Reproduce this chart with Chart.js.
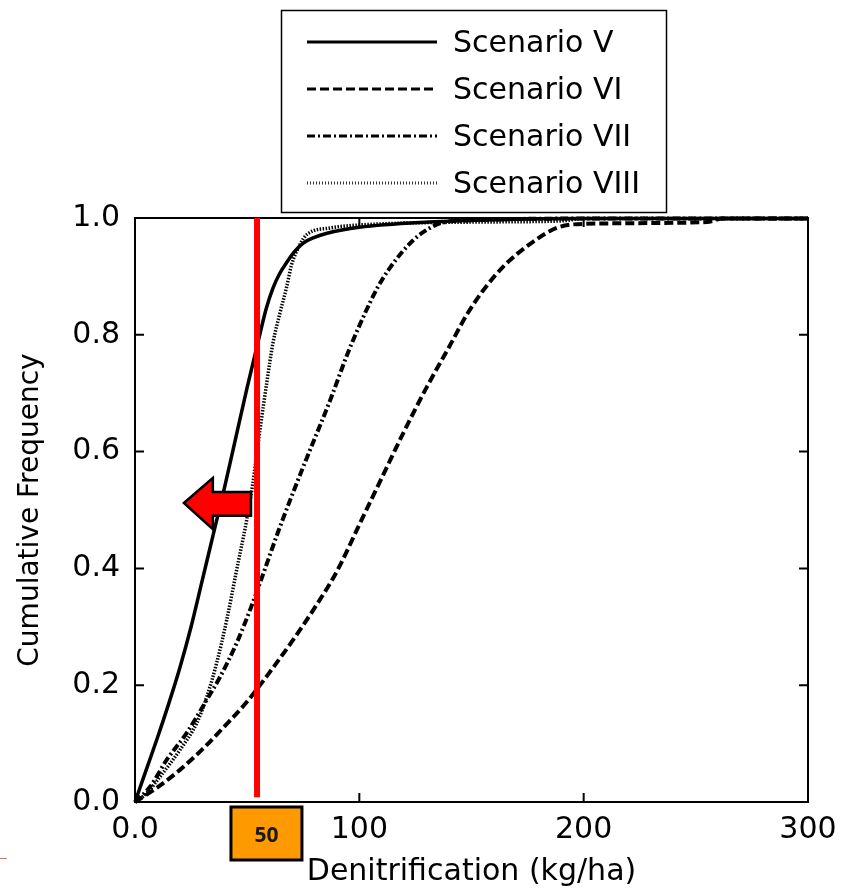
<!DOCTYPE html>
<html>
<head>
<meta charset="utf-8">
<title>Cumulative frequency of denitrification</title>
<script src="https://cdn.jsdelivr.net/npm/chart.js@4.4.0/dist/chart.umd.min.js"></script>
<style>
  html, body { margin: 0; padding: 0; background: #fff; }
  #wrap { width: 850px; height: 891px; }
</style>
</head>
<body>
<div id="wrap"><canvas id="cdf" width="850" height="891"></canvas></div>
<script>
// ============================================================
// Data
// ============================================================

const SCENARIO_NAMES = ['Scenario V', 'Scenario VI', 'Scenario VII', 'Scenario VIII'];

// Scenario V — solid
const V_X = [0, 5, 10, 15, 20, 25, 30, 35, 40, 45, 50, 55, 58.5, 61.5, 64.5, 67.8, 71, 75, 80, 85.6, 100, 131, 160, 200, 300];
const V_Y = [0, 0.055, 0.11, 0.168, 0.23, 0.3, 0.38, 0.46, 0.54, 0.625, 0.71, 0.79, 0.845, 0.88, 0.905, 0.925, 0.942, 0.957, 0.967, 0.974, 0.984, 0.993, 0.997, 0.999, 0.999];

// Scenario VI — dashed
const VI_X = [0, 10, 20, 30, 40, 50, 60, 70, 80, 90, 100, 110, 120, 130, 140, 148, 155, 165, 177, 188, 200, 255, 262, 300];
const VI_Y = [0, 0.025, 0.055, 0.09, 0.13, 0.172, 0.222, 0.275, 0.332, 0.395, 0.475, 0.555, 0.635, 0.71, 0.779, 0.835, 0.875, 0.92, 0.958, 0.983, 0.99, 0.993, 0.999, 0.999];

// Scenario VII — dash-dot
const VII_X = [0, 6.7, 14.1, 23, 32, 37.9, 45.3, 51.3, 55.7, 64.6, 75, 87, 95, 101.7, 108, 113.7, 124, 131.5, 137, 150, 200, 300];
const VII_Y = [0, 0.026, 0.072, 0.118, 0.175, 0.214, 0.272, 0.329, 0.375, 0.471, 0.574, 0.688, 0.77, 0.83, 0.88, 0.915, 0.962, 0.983, 0.992, 0.996, 0.999, 0.999];

// Scenario VIII — dotted
const VIII_X = [0, 5.2, 11.1, 20, 27.5, 32, 36.4, 40.9, 45.3, 49.8, 52.3, 55.7, 58.7, 61.5, 64.6, 67.6, 69.8, 73.6, 76.7, 87, 100, 150, 190, 200, 300];
const VIII_Y = [0, 0.015, 0.043, 0.089, 0.135, 0.18, 0.238, 0.312, 0.397, 0.483, 0.54, 0.637, 0.717, 0.786, 0.837, 0.882, 0.92, 0.955, 0.972, 0.983, 0.988, 0.993, 0.995, 0.999, 0.999];

// threshold marker (red line) and its label
const THRESHOLD_X = 54.4;
const THRESHOLD_LABEL = '50';

const X_TICKS = [0, 100, 200, 300];
const Y_TICKS = [0, 0.2, 0.4, 0.6, 0.8, 1.0];

// ============================================================
// Helpers
// ============================================================

function zip(xs, ys) {
  return xs.map((x, i) => ({ x, y: ys[i] }));
}

const FONT = 'DejaVu Sans';

const STYLES = [
  { dash: [], width: 3.5, legendWidth: 3 },
  { dash: [9, 4], width: 4, legendWidth: 3 },
  { dash: [8, 3, 2, 3], width: 4, legendWidth: 3 },
  { dash: [1.5, 1.5], width: 3.5, legendWidth: 3 },
];

// ============================================================
// Plugins
// ============================================================

// box round the plot + inward tick marks on all four sides
const framePlugin = {
  id: 'frame',
  beforeDatasetsDraw(chart) {
    const { ctx, chartArea: a, scales: { x, y } } = chart;
    ctx.save();
    ctx.strokeStyle = '#000';
    ctx.lineWidth = 2;
    ctx.strokeRect(a.left, a.top, a.right - a.left, a.bottom - a.top);
    ctx.beginPath();
    Y_TICKS.slice(1, -1).forEach(v => {
      const py = y.getPixelForValue(v);
      ctx.moveTo(a.left, py); ctx.lineTo(a.left + 9, py);
      ctx.moveTo(a.right, py); ctx.lineTo(a.right - 9, py);
    });
    X_TICKS.slice(1, -1).forEach(v => {
      const px = x.getPixelForValue(v);
      ctx.moveTo(px, a.bottom); ctx.lineTo(px, a.bottom - 9);
      ctx.moveTo(px, a.top); ctx.lineTo(px, a.top + 9);
    });
    ctx.stroke();
    ctx.restore();
  }
};

// red arrow pointing left, next to the threshold line
const arrowPlugin = {
  id: 'arrow',
  afterDatasetsDraw(chart) {
    const { ctx, scales: { x, y } } = chart;
    const pts = [
      [21.8, 0.512], [34.7, 0.555], [34.7, 0.531], [51.7, 0.531],
      [51.7, 0.49], [34.7, 0.49], [34.7, 0.467],
    ];
    ctx.save();
    ctx.beginPath();
    pts.forEach(([vx, vy], i) => {
      const px = x.getPixelForValue(vx), py = y.getPixelForValue(vy);
      if (i === 0) ctx.moveTo(px, py); else ctx.lineTo(px, py);
    });
    ctx.closePath();
    ctx.fillStyle = '#ff0000';
    ctx.fill();
    ctx.lineWidth = 2.5;
    ctx.lineJoin = 'miter';
    ctx.strokeStyle = '#000';
    ctx.stroke();
    ctx.restore();
  }
};

// legend box, orange "50" label, small stray mark bottom-left
const overlayPlugin = {
  id: 'overlay',
  afterDraw(chart) {
    const { ctx, chartArea: a, scales: { x } } = chart;
    ctx.save();

    // legend
    ctx.fillStyle = '#fff';
    ctx.fillRect(281, 10, 386, 203);
    ctx.strokeStyle = '#000';
    ctx.lineWidth = 1.5;
    ctx.strokeRect(281.5, 10.5, 385, 202);
    SCENARIO_NAMES.forEach((name, i) => {
      const ly = 42 + i * 47;
      ctx.beginPath();
      ctx.setLineDash(i === 3 ? [1, 2] : STYLES[i].dash);
      ctx.lineWidth = STYLES[i].legendWidth;
      ctx.strokeStyle = i === 3 ? '#333' : '#000';
      ctx.moveTo(307, ly);
      ctx.lineTo(437, ly);
      ctx.stroke();
      ctx.setLineDash([]);
      ctx.fillStyle = '#000';
      ctx.font = `30px "${FONT}"`;
      ctx.textAlign = 'left';
      ctx.textBaseline = 'middle';
      ctx.fillText(name, 453, ly + 2);
    });

    // orange threshold label under the axis
    const cx = x.getPixelForValue(58.6);
    const bw = 71, bh = 53, top = a.bottom + 5;
    ctx.fillStyle = '#ff9900';
    ctx.fillRect(cx - bw / 2, top, bw, bh);
    ctx.lineWidth = 3;
    ctx.strokeStyle = '#000';
    ctx.strokeRect(cx - bw / 2, top, bw, bh);
    ctx.fillStyle = '#1a1a1a';
    ctx.font = 'bold 21px "Open Sans"';
    ctx.textAlign = 'center';
    ctx.textBaseline = 'middle';
    ctx.fillText(THRESHOLD_LABEL, cx, top + bh / 2 + 3);

    // stray mark
    ctx.strokeStyle = '#b5826f';
    ctx.lineWidth = 1;
    ctx.beginPath();
    ctx.moveTo(0, 858.5);
    ctx.lineTo(7, 858.5);
    ctx.stroke();

    ctx.restore();
  }
};

// ============================================================
// Chart
// ============================================================

const seriesX = [V_X, VI_X, VII_X, VIII_X];
const seriesY = [V_Y, VI_Y, VII_Y, VIII_Y];

const datasets = [
  {
    label: 'threshold',
    data: [{ x: THRESHOLD_X, y: 0.008 }, { x: THRESHOLD_X, y: 1.0 }],
    borderColor: '#ff0000',
    borderWidth: 6,
    pointRadius: 0,
    clip: false,
  },
  ...SCENARIO_NAMES.map((name, i) => ({
    label: name,
    data: zip(seriesX[i], seriesY[i]),
    borderColor: '#000',
    borderWidth: STYLES[i].width,
    borderDash: STYLES[i].dash,
    pointRadius: 0,
    cubicInterpolationMode: 'monotone',
    clip: false,
  })),
];

Chart.defaults.font.family = FONT;
Chart.defaults.color = '#000';

new Chart(document.getElementById('cdf'), {
  type: 'line',
  data: { datasets },
  options: {
    responsive: false,
    animation: false,
    devicePixelRatio: 1,
    layout: { padding: { top: 218, right: 42, left: 0, bottom: 0 } },
    plugins: {
      legend: { display: false },
      tooltip: { enabled: false },
    },
    scales: {
      x: {
        type: 'linear',
        min: 0,
        max: 300,
        afterFit: s => { s.height = 89; },
        afterBuildTicks: s => { s.ticks = X_TICKS.map(v => ({ value: v })); },
        grid: { display: false, drawTicks: false },
        border: { display: false },
        ticks: {
          padding: 10,
          font: { size: 30 },
          maxRotation: 0,
          callback: v => (v === 0 ? '0.0' : String(v)),
        },
        title: {
          display: true,
          text: 'Denitrification (kg/ha)',
          font: { size: 30 },
          padding: { top: 0, bottom: 1 },
        },
      },
      y: {
        type: 'linear',
        min: 0,
        max: 1,
        afterFit: s => { s.width = 135; },
        afterBuildTicks: s => { s.ticks = Y_TICKS.map(v => ({ value: v })); },
        grid: { display: false, drawTicks: false },
        border: { display: false },
        ticks: {
          padding: 15,
          font: { size: 30 },
          callback: v => v.toFixed(1),
        },
        title: {
          display: true,
          text: 'Cumulative Frequency',
          font: { size: 28 },
          padding: { top: 14, bottom: 0 },
        },
      },
    },
  },
  plugins: [framePlugin, arrowPlugin, overlayPlugin],
});
</script>
</body>
</html>
